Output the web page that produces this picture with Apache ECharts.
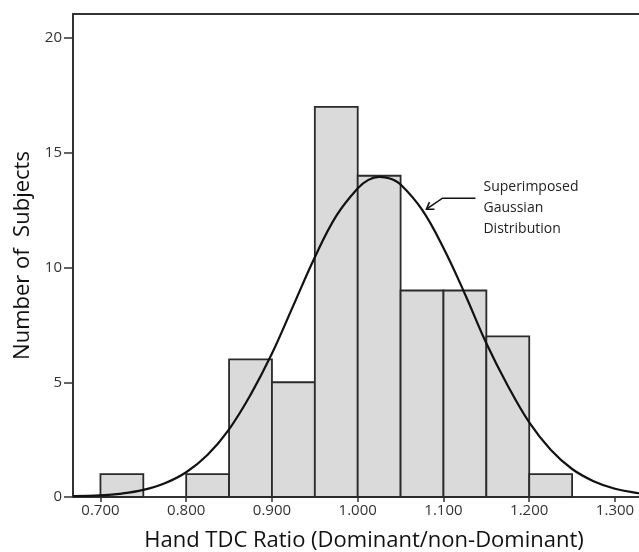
<html>
<head>
<meta charset="utf-8">
<script src="https://cdn.jsdelivr.net/npm/echarts@6/dist/echarts.min.js"></script>
<style>
  html, body { margin: 0; padding: 0; background: #fff; }
  #chart { width: 639px; height: 552px; }
</style>
</head>
<body>
<div id="chart"></div>
<script>
// histogram bins (width 0.05), start of each bin
var binStarts = [0.70, 0.75, 0.80, 0.85, 0.90, 0.95, 1.00, 1.05, 1.10, 1.15, 1.20];
var binCounts = [1, 0, 1, 6, 5, 17, 14, 9, 9, 7, 1];
var binWidth = 0.05;

// superimposed gaussian curve
var curveX = [0.668, 0.700, 0.725, 0.750, 0.775, 0.800, 0.825, 0.850, 0.875, 0.900, 0.925, 0.950, 0.975,
              1.000, 1.0125, 1.025, 1.0375, 1.050, 1.075, 1.100, 1.125, 1.150, 1.175, 1.200, 1.225, 1.250,
              1.275, 1.300, 1.325, 1.340];
var curveY = [0.04, 0.07, 0.15, 0.31, 0.60, 1.08, 1.84, 2.95, 4.45, 6.25, 8.35, 10.45, 12.25,
              13.45, 13.82, 13.95, 13.88, 13.62, 12.52, 10.85, 8.85, 6.70, 4.85, 3.25, 2.06, 1.22,
              0.69, 0.36, 0.18, 0.12];

var xTicks = [0.7, 0.8, 0.9, 1.0, 1.1, 1.2, 1.3];
var yTicks = [0, 5, 10, 15, 20];

var chart = echarts.init(document.getElementById('chart'));

var barData = [];
for (var i = 0; i < binStarts.length; i++) {
  if (binCounts[i] > 0) barData.push([binStarts[i], binStarts[i] + binWidth, binCounts[i]]);
}
var lineData = [];
for (var j = 0; j < curveX.length; j++) lineData.push([curveX[j], curveY[j]]);

var option = {
  animation: false,
  grid: { left: 73, top: 14, right: 0, bottom: 55, outerBoundsMode: 'none', containLabel: false },
  xAxis: [{
    type: 'value', min: 0.668, max: 1.328,
    name: 'Hand TDC Ratio (Dominant/non-Dominant)', nameLocation: 'middle', nameGap: 33,
    nameTextStyle: { fontFamily: 'Open Sans', fontSize: 22, color: '#111', padding: [0, 0, 0, 16] },
    axisLine: { lineStyle: { color: '#333', width: 2 } },
    axisTick: { customValues: xTicks, length: 5, lineStyle: { color: '#333', width: 1.5 } },
    axisLabel: { customValues: xTicks, formatter: function (v) { return v.toFixed(3); },
      fontFamily: 'Open Sans', fontSize: 15, color: '#333', margin: 6 },
    splitLine: { show: false }
  }, {
    // top frame line only
    type: 'value', position: 'top', min: 0.668, max: 1.328,
    axisLine: { show: true, lineStyle: { color: '#333', width: 2 } },
    axisTick: { show: false }, axisLabel: { show: false }, splitLine: { show: false }
  }],
  yAxis: {
    type: 'value', min: 0, max: 21.05,
    name: 'Number of  Subjects', nameLocation: 'middle', nameGap: 38,
    nameTextStyle: { fontFamily: 'Open Sans', fontSize: 22, color: '#111' },
    axisLine: { lineStyle: { color: '#333', width: 2 } },
    axisTick: { customValues: yTicks, length: 9, lineStyle: { color: '#333', width: 1.5 } },
    axisLabel: { customValues: yTicks, fontFamily: 'Open Sans', fontSize: 15, color: '#333', margin: 11 },
    splitLine: { show: false }
  },
  series: [
    {
      type: 'custom',
      data: barData,
      encode: { x: [0, 1], y: 2 },
      z: 2,
      renderItem: function (params, api) {
        var p0 = api.coord([api.value(0), api.value(2)]);
        var p1 = api.coord([api.value(1), 0]);
        return {
          type: 'rect',
          shape: { x: p0[0], y: p0[1], width: p1[0] - p0[0], height: p1[1] - p0[1] },
          style: { fill: '#dadada', stroke: '#2a2a2a', lineWidth: 1.8 }
        };
      }
    },
    {
      type: 'line',
      data: lineData,
      smooth: 0.4,
      showSymbol: false,
      z: 3,
      lineStyle: { color: '#111', width: 2.2 }
    }
  ]
};
chart.setOption(option);

// annotation with arrow pointing at the curve
var tip = chart.convertToPixel({ gridIndex: 0 }, [1.079, 12.5]);
var tx = tip[0] + 58, ty = tip[1] - 34;
chart.setOption({
  graphic: [
    { type: 'polyline', z: 10, shape: { points: [[tip[0] + 50, tip[1] - 12], [tip[0] + 17, tip[1] - 12], [tip[0] + 1, tip[1] - 1]] },
      style: { stroke: '#111', lineWidth: 1.6, fill: null } },
    { type: 'polyline', z: 10, shape: { points: [[tip[0] + 4, tip[1] - 8], [tip[0] + 1, tip[1] - 1], [tip[0] + 9, tip[1] - 1]] },
      style: { stroke: '#111', lineWidth: 1.6, fill: null } },
    { type: 'text', z: 10, x: tx, y: ty,
      style: { text: 'Superimposed\nGaussian\nDistribution', fontFamily: 'Open Sans', fontSize: 14,
        lineHeight: 21, fill: '#222' } }
  ]
});
</script>
</body>
</html>
